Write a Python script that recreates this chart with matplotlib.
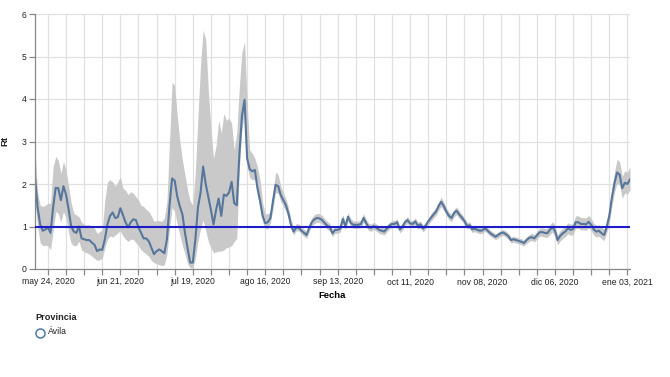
import matplotlib
matplotlib.use("Agg")
import matplotlib.pyplot as plt
import pandas as pd
from matplotlib.lines import Line2D

plt.rcParams['font.family'] = ['Liberation Sans', 'DejaVu Sans']

start_date = "2020-05-19"

rt = [2.17, 1.45, 1.05, 0.90, 0.93, 0.98, 0.85, 1.45, 1.91, 1.90,
      1.62, 1.95, 1.75, 1.40, 1.00, 0.88, 0.85, 1.00, 0.72, 0.70,
      0.68, 0.68, 0.62, 0.57, 0.42, 0.46, 0.45, 0.70, 1.05, 1.25,
      1.33, 1.20, 1.22, 1.43, 1.27, 1.10, 0.98, 1.10, 1.17, 1.15,
      0.98, 0.85, 0.72, 0.72, 0.65, 0.50, 0.35, 0.42, 0.46, 0.42,
      0.37, 0.70, 1.50, 2.13, 2.08, 1.70, 1.47, 1.28, 0.84, 0.48,
      0.15, 0.15, 0.70, 1.45, 1.80, 2.41, 2.00, 1.70, 1.39, 1.05,
      1.39, 1.66, 1.25, 1.75, 1.72, 1.80, 2.05, 1.55, 1.50, 2.70,
      3.60, 3.98, 2.60, 2.35, 2.30, 2.33, 1.90, 1.60, 1.25, 1.08,
      1.10, 1.20, 1.60, 1.98, 1.95, 1.74, 1.62, 1.50, 1.30, 1.02,
      0.88, 0.98, 0.97, 0.90, 0.85, 0.80, 0.97, 1.10, 1.17, 1.20,
      1.19, 1.15, 1.08, 1.02, 0.98, 0.84, 0.92, 0.92, 0.95, 1.18,
      1.00, 1.23, 1.09, 1.04, 1.04, 1.04, 1.06, 1.20, 1.08, 0.98,
      0.97, 1.01, 0.97, 0.92, 0.90, 0.88, 0.95, 1.02, 1.06, 1.06,
      1.10, 0.93, 0.99, 1.10, 1.15, 1.07, 1.06, 1.12, 1.02, 1.05,
      0.95, 1.02, 1.12, 1.20, 1.28, 1.35, 1.48, 1.58, 1.48, 1.35,
      1.25, 1.20, 1.32, 1.37, 1.28, 1.21, 1.13, 1.01, 1.03, 0.93,
      0.95, 0.92, 0.90, 0.91, 0.96, 0.90, 0.84, 0.80, 0.76, 0.80,
      0.84, 0.86, 0.82, 0.77, 0.68, 0.70, 0.68, 0.66, 0.64, 0.61,
      0.68, 0.73, 0.75, 0.72, 0.79, 0.86, 0.87, 0.85, 0.84, 0.92,
      0.99, 0.90, 0.68, 0.78, 0.84, 0.88, 0.96, 0.92, 0.94, 1.10,
      1.10, 1.06, 1.06, 1.05, 1.11, 1.04, 0.93, 0.88, 0.90, 0.84,
      0.80, 0.99, 1.25, 1.68, 2.02, 2.27, 2.22, 1.90, 2.03, 2.00,
      2.11]

rt_low = [1.60, 1.00, 0.62, 0.55, 0.56, 0.55, 0.45, 0.90, 1.35, 1.30,
          1.10, 1.35, 1.20, 0.85, 0.60, 0.55, 0.55, 0.65, 0.45, 0.40,
          0.38, 0.35, 0.30, 0.25, 0.20, 0.22, 0.25, 0.50, 0.70, 0.78,
          0.75, 0.80, 0.85, 0.90, 0.78, 0.70, 0.65, 0.70, 0.70, 0.62,
          0.55, 0.45, 0.40, 0.35, 0.30, 0.20, 0.15, 0.12, 0.10, 0.08,
          0.10, 0.35, 0.95, 1.45, 1.35, 1.05, 0.80, 0.55, 0.35, 0.12,
          0.03, 0.02, 0.25, 0.65, 0.95, 1.15, 0.90, 0.65, 0.50, 0.38,
          0.40, 0.42, 0.42, 0.45, 0.50, 0.52, 0.55, 0.65, 0.72, 2.40,
          3.30, 3.70, 2.40, 2.15, 2.10, 2.10, 1.75, 1.45, 1.10, 0.95,
          0.95, 1.08, 1.42, 1.80, 1.78, 1.58, 1.48, 1.36, 1.17, 0.92,
          0.80, 0.90, 0.89, 0.82, 0.77, 0.72, 0.88, 1.01, 1.07, 1.10,
          1.09, 1.05, 0.99, 0.93, 0.89, 0.76, 0.84, 0.84, 0.87, 1.08,
          0.92, 1.13, 1.00, 0.96, 0.96, 0.96, 0.97, 1.10, 0.99, 0.90,
          0.89, 0.93, 0.89, 0.84, 0.82, 0.80, 0.87, 0.94, 0.98, 0.98,
          1.02, 0.85, 0.91, 1.02, 1.07, 0.99, 0.98, 1.04, 0.94, 0.97,
          0.87, 0.94, 1.04, 1.12, 1.19, 1.26, 1.38, 1.47, 1.38, 1.26,
          1.16, 1.11, 1.23, 1.28, 1.19, 1.13, 1.05, 0.94, 0.96, 0.86,
          0.88, 0.85, 0.83, 0.84, 0.89, 0.83, 0.77, 0.73, 0.69, 0.73,
          0.77, 0.79, 0.75, 0.70, 0.61, 0.63, 0.61, 0.59, 0.57, 0.54,
          0.60, 0.65, 0.67, 0.64, 0.70, 0.77, 0.77, 0.75, 0.74, 0.81,
          0.87, 0.78, 0.57, 0.66, 0.72, 0.76, 0.83, 0.79, 0.81, 0.96,
          0.96, 0.92, 0.92, 0.91, 0.97, 0.90, 0.80, 0.75, 0.77, 0.71,
          0.67, 0.85, 1.08, 1.48, 1.80, 2.02, 1.97, 1.66, 1.79, 1.76,
          1.86]

rt_high = [2.80, 1.80, 1.50, 1.47, 1.50, 1.54, 1.55, 2.40, 2.65, 2.56,
           2.25, 2.53, 2.33, 1.95, 1.55, 1.31, 1.27, 1.23, 1.10, 1.05,
           1.04, 1.04, 1.00, 0.96, 0.84, 0.88, 0.92, 1.62, 2.05, 2.10,
           2.05, 1.95, 2.05, 2.17, 1.90, 1.85, 1.75, 1.82, 1.78, 1.70,
           1.62, 1.50, 1.47, 1.40, 1.35, 1.25, 1.12, 1.14, 1.14, 1.12,
           1.20, 1.60, 3.00, 4.41, 4.30, 3.60, 3.00, 2.55, 2.20, 1.85,
           1.60, 1.50, 2.30, 3.60, 4.80, 5.62, 5.40, 4.20, 3.30, 2.60,
           2.90, 3.50, 3.20, 3.66, 3.50, 3.55, 3.43, 2.80, 3.20, 4.30,
           5.10, 5.35, 3.90, 2.80, 2.72, 2.60, 2.40, 2.10, 1.55, 1.30,
           1.30, 1.35, 1.82, 2.28, 2.22, 1.95, 1.80, 1.65, 1.44, 1.15,
           0.98, 1.07, 1.06, 0.99, 0.94, 0.89, 1.06, 1.20, 1.28, 1.31,
           1.30, 1.26, 1.18, 1.12, 1.07, 0.93, 1.01, 1.01, 1.04, 1.28,
           1.09, 1.33, 1.19, 1.13, 1.13, 1.13, 1.15, 1.30, 1.18, 1.07,
           1.06, 1.10, 1.06, 1.01, 0.99, 0.97, 1.03, 1.10, 1.14, 1.14,
           1.18, 1.01, 1.07, 1.18, 1.23, 1.15, 1.14, 1.20, 1.10, 1.13,
           1.03, 1.10, 1.20, 1.29, 1.37, 1.44, 1.58, 1.69, 1.58, 1.44,
           1.34, 1.29, 1.41, 1.46, 1.37, 1.29, 1.21, 1.09, 1.11, 1.00,
           1.02, 0.99, 0.97, 0.98, 1.03, 0.97, 0.91, 0.87, 0.83, 0.87,
           0.91, 0.93, 0.89, 0.84, 0.75, 0.77, 0.75, 0.73, 0.71, 0.68,
           0.76, 0.81, 0.84, 0.81, 0.88, 0.96, 0.97, 0.95, 0.95, 1.03,
           1.11, 1.02, 0.80, 0.90, 0.96, 1.01, 1.09, 1.05, 1.08, 1.25,
           1.25, 1.21, 1.21, 1.20, 1.26, 1.19, 1.07, 1.02, 1.04, 0.98,
           0.94, 1.14, 1.43, 1.90, 2.28, 2.58, 2.52, 2.18, 2.31, 2.28,
           2.40]

tick_dates = ["2020-05-24", "2020-06-21", "2020-07-19", "2020-08-16",
              "2020-09-13", "2020-10-11", "2020-11-08", "2020-12-06",
              "2021-01-03"]
tick_labels = ["may 24, 2020", "jun 21, 2020", "jul 19, 2020", "ago 16, 2020",
               "sep 13, 2020", "oct 11, 2020", "nov 08, 2020", "dic 06, 2020",
               "ene 03, 2021"]
y_ticks = [0, 1, 2, 3, 4, 5, 6]
threshold = 1
province = "Ávila"

dates = pd.date_range(start_date, periods=len(rt), freq="D")
weekly = pd.date_range(tick_dates[0], tick_dates[-1], freq="7D")
label_map = dict(zip(pd.to_datetime(tick_dates), tick_labels))

fig = plt.figure(figsize=(6.7, 3.77), dpi=100)
ax = fig.add_axes([35/670, 1-269/377, 595/670, 255/377])

ax.fill_between(dates, rt_low, rt_high, color="#c9c9c9", linewidth=0, zorder=1)
ax.plot(dates, rt, color="#56769c", linewidth=1.5, zorder=2)
ax.axhline(threshold, color="#1c1cc8", linewidth=1.5, zorder=3)

ax.set_xlim(dates[0], dates[-1])
ax.set_ylim(0, 6)
ax.set_yticks(y_ticks)
ax.set_xticks(weekly)
ax.set_xticklabels([label_map.get(d, "") for d in weekly])

ax.grid(True, color="#e0e0e0", linewidth=0.9, zorder=0)
ax.set_axisbelow(True)
for s in ["top", "right"]:
    ax.spines[s].set_visible(False)
for s in ["left", "bottom"]:
    ax.spines[s].set_color("#888888")
    ax.spines[s].set_linewidth(0.9)
ax.tick_params(axis="both", colors="#888888", length=4, width=0.9,
               labelsize=6.2, labelcolor="#222222", pad=2)

ax.set_xlabel("Fecha", fontsize=6.8, fontweight="bold", labelpad=3)
fig.text(5/670, 1-141/377, "Rt", rotation=90, fontsize=6.8, fontweight="bold",
         ha="center", va="center", color="#222222")

fig.text(35/670, 1-318/377, "Provincia", fontsize=6.6, fontweight="bold",
         ha="left", va="center", color="#222222")
fig.lines.append(Line2D([40/670], [1-333/377], marker="o", markersize=6.5,
                        markerfacecolor="none", markeredgecolor="#4c78a8",
                        markeredgewidth=1.1, transform=fig.transFigure))
fig.text(48/670, 1-332/377, province, fontsize=6.2, ha="left", va="center",
         color="#222222")

fig.savefig("out.png", dpi=100)
